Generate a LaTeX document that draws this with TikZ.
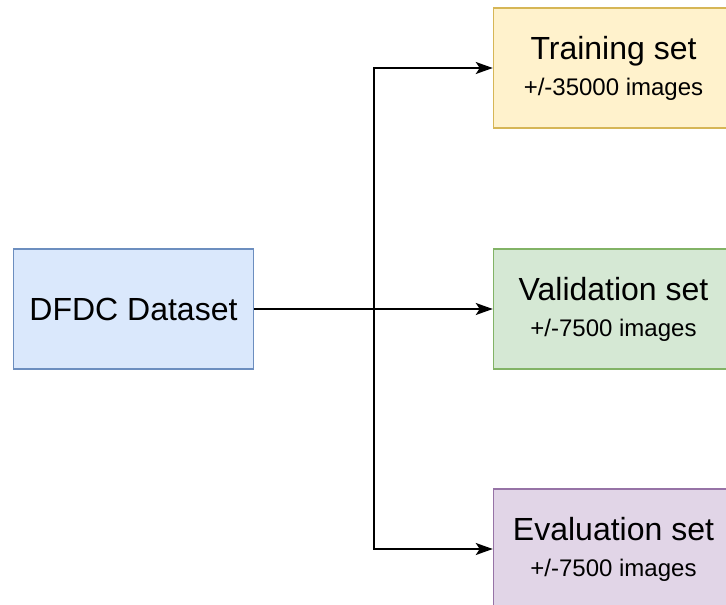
\documentclass[tikz,border=0pt]{standalone}
\usepackage{fontspec}
\setmainfont{Liberation Sans}
\usetikzlibrary{arrows.meta}
\definecolor{blueFill}{HTML}{DAE8FC}\definecolor{blueLine}{HTML}{6C8EBF}
\definecolor{yellowFill}{HTML}{FFF2CC}\definecolor{yellowLine}{HTML}{D6B656}
\definecolor{greenFill}{HTML}{D5E8D4}\definecolor{greenLine}{HTML}{82B366}
\definecolor{purpleFill}{HTML}{E1D5E7}\definecolor{purpleLine}{HTML}{9673A6}
\tikzset{
  box/.style={draw, line width=1.5pt, minimum width=240pt, minimum height=120pt,
    inner sep=0pt, align=center, font=\fontsize{32}{33}\selectfont},
  link/.style={line width=2pt, -{Stealth[length=17pt,width=12pt,inset=4pt]}},
}
% second, smaller line inside a box
\newcommand{\subline}[1]{\\[3pt]{\fontsize{24}{28}\selectfont #1}}
\begin{document}
\begin{tikzpicture}[x=1pt,y=-1pt]
  \useasboundingbox (0,0) rectangle (726,605);
  \clip (0,0) rectangle (726,605);
  \node[box, fill=blueFill, draw=blueLine] (dfdc) at (133.5,309) {DFDC Dataset};
  \node[box, fill=yellowFill, draw=yellowLine] (train) at (613.5,68)
    {Training set\subline{+/-35000 images}};
  \node[box, fill=greenFill, draw=greenLine] (val) at (613.5,309)
    {Validation set\subline{+/-7500 images}};
  \node[box, fill=purpleFill, draw=purpleLine] (eval) at (613.5,549)
    {Evaluation set\subline{+/-7500 images}};
  \coordinate (branch) at (373.5,309);
  \draw[link] (dfdc.east) -- (val.west);
  \draw[link] (dfdc.east) -- (branch) |- (train.west);
  \draw[link] (dfdc.east) -- (branch) |- (eval.west);
\end{tikzpicture}
\end{document}
